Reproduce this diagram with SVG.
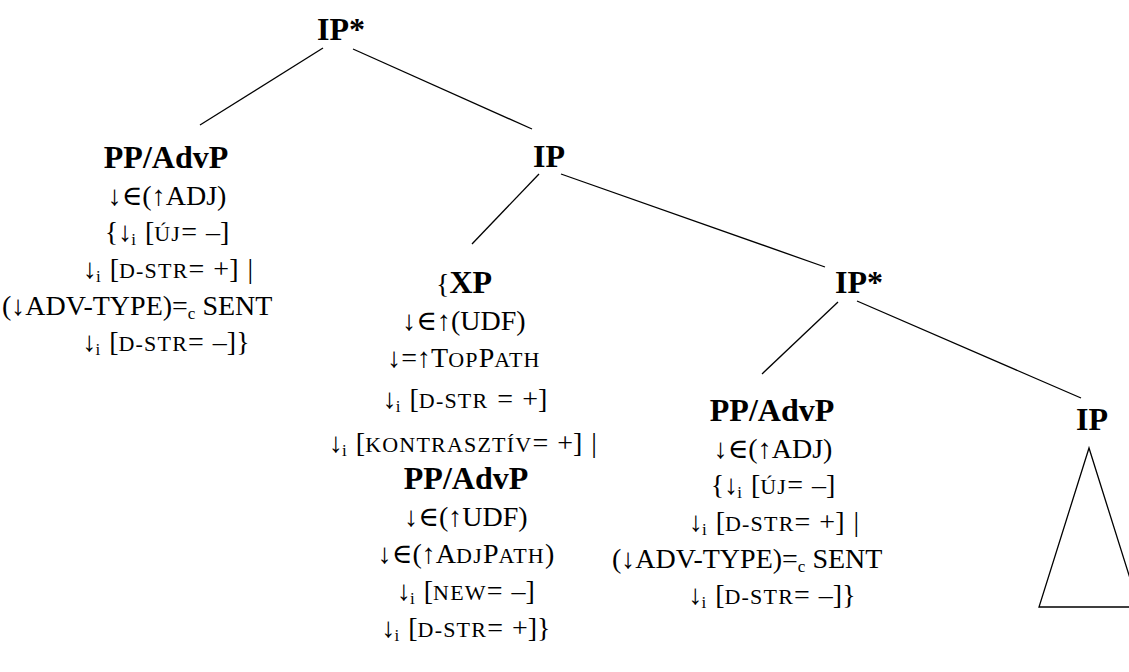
<svg xmlns="http://www.w3.org/2000/svg" width="1129" height="672" viewBox="0 0 1129 672">
<style>
text { font-family: "Liberation Serif", "Times New Roman", "DejaVu Serif", serif; font-size: 28px; fill: #000; text-anchor: middle; word-spacing: 2px; }
.b { font-weight: bold; font-size: 32px; }
.sc { font-size: 22px; letter-spacing: 1.2px; }
.sub { font-size: 17px; }
.st { text-anchor: start; word-spacing: 0; }
.edge { stroke: #000; stroke-width: 1.3; fill: none; }
</style>
<rect width="1129" height="672" fill="#fff"/>
<g id="connectors">
<line class="edge" x1="323" y1="48" x2="200" y2="125"/>
<line class="edge" x1="353" y1="49" x2="532" y2="129"/>
<line class="edge" x1="539" y1="174" x2="472" y2="244"/>
<line class="edge" x1="561" y1="174" x2="825" y2="267"/>
<line class="edge" x1="838" y1="302" x2="762" y2="374"/>
<line class="edge" x1="857" y1="301" x2="1081" y2="398"/>
</g>
<g id="n-ipstar-top"><text class="b" x="341" y="40">IP*</text></g>
<g id="n-ppadvp-left">
<text class="b" x="166" y="168">PP/AdvP</text>
<text x="167" y="205">↓∈(↑ADJ)</text>
<text x="167" y="241">{↓<tspan class="sub" dx="-1" dy="4">i</tspan><tspan dy="-4"> [</tspan><tspan class="sc">ÚJ</tspan>= –]</text>
<text x="168" y="278">↓<tspan class="sub" dx="-1" dy="4">i</tspan><tspan dy="-4"> [</tspan><tspan class="sc">D-STR</tspan>= +] |</text>
<text class="st" x="2" y="315">(↓ADV-TYPE)=<tspan class="sub" dy="4">c</tspan><tspan dy="-4"> SENT</tspan></text>
<text x="166" y="351">↓<tspan class="sub" dx="-1" dy="4">i</tspan><tspan dy="-4"> [</tspan><tspan class="sc">D-STR</tspan>= –]}</text>
</g>
<g id="n-ip-mid"><text class="b" x="549" y="167">IP</text></g>
<g id="n-xp">
<text x="464" y="293">{<tspan class="b">XP</tspan></text>
<text x="464" y="330">↓∈↑(UDF)</text>
<text x="464" y="367">↓=↑T<tspan class="sc">OP</tspan>P<tspan class="sc">ATH</tspan></text>
<text x="465" y="408">↓<tspan class="sub" dx="-1" dy="4">i</tspan><tspan dy="-4"> [</tspan><tspan class="sc">D-STR</tspan> = +]</text>
<text x="463" y="452">↓<tspan class="sub" dx="-1" dy="4">i</tspan><tspan dy="-4"> [</tspan><tspan class="sc">KONTRASZTÍV</tspan>= +] |</text>
<text class="b" x="466" y="489">PP/AdvP</text>
<text x="466" y="526">↓∈(↑UDF)</text>
<text x="466" y="563">↓∈(↑A<tspan class="sc">DJ</tspan>P<tspan class="sc">ATH</tspan>)</text>
<text x="466" y="600">↓<tspan class="sub" dx="-1" dy="4">i</tspan><tspan dy="-4"> [</tspan><tspan class="sc">NEW</tspan>= –]</text>
<text x="466" y="637">↓<tspan class="sub" dx="-1" dy="4">i</tspan><tspan dy="-4"> [</tspan><tspan class="sc">D-STR</tspan>= +]}</text>
</g>
<g id="n-ipstar-right"><text class="b" x="859" y="293">IP*</text></g>
<g id="n-ppadvp-right">
<text class="b" x="772" y="421">PP/AdvP</text>
<text x="773" y="458">↓∈(↑ADJ)</text>
<text x="773" y="494">{↓<tspan class="sub" dx="-1" dy="4">i</tspan><tspan dy="-4"> [</tspan><tspan class="sc">ÚJ</tspan>= –]</text>
<text x="774" y="531">↓<tspan class="sub" dx="-1" dy="4">i</tspan><tspan dy="-4"> [</tspan><tspan class="sc">D-STR</tspan>= +] |</text>
<text class="st" x="612" y="568">(↓ADV-TYPE)=<tspan class="sub" dy="4">c</tspan><tspan dy="-4"> SENT</tspan></text>
<text x="772" y="604">↓<tspan class="sub" dx="-1" dy="4">i</tspan><tspan dy="-4"> [</tspan><tspan class="sc">D-STR</tspan>= –]}</text>
</g>
<g id="n-ip-right">
<text class="b" x="1092" y="430">IP</text>
<polygon class="edge" points="1089,448 1039,607 1139,607"/>
</g>
</svg>
